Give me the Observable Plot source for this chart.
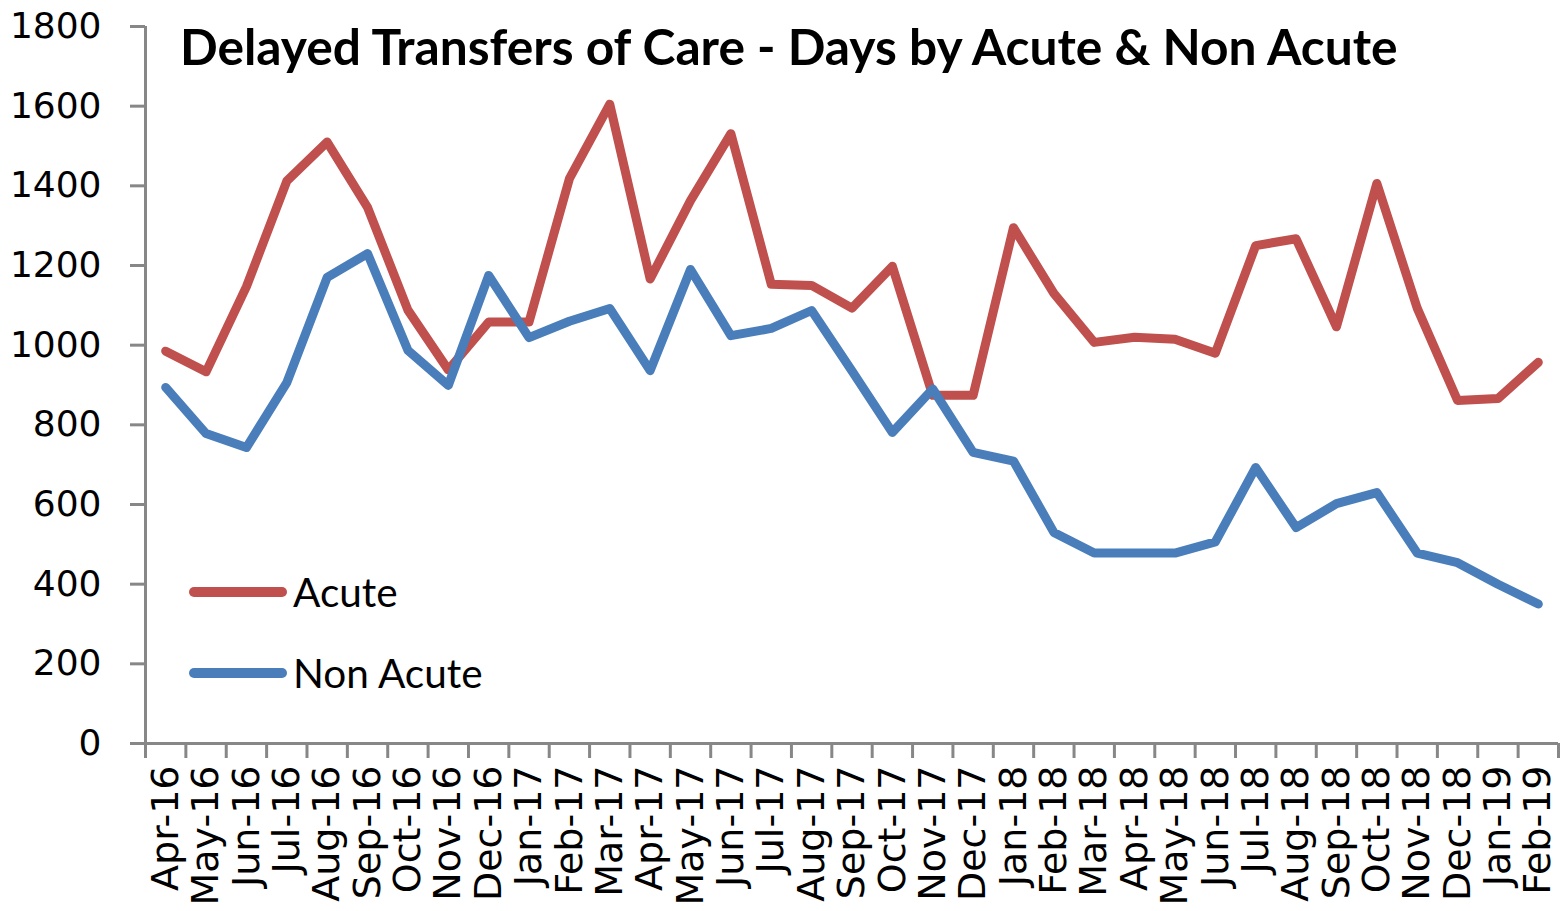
<!DOCTYPE html>
<html>
<head>
<meta charset="utf-8">
<script src="https://cdn.jsdelivr.net/npm/d3@7"></script>
<script src="https://cdn.jsdelivr.net/npm/@observablehq/plot@0.6"></script>
<style>
  html, body { margin: 0; padding: 0; background: #fff; }
  #wrap { position: relative; width: 1560px; height: 911px; overflow: hidden; }
  #title { position: absolute; left: 180px; top: 15px; font-family: Lato, "Open Sans", sans-serif; font-weight: bold; color: #000; white-space: nowrap; }
  .leg { position: absolute; left: 188px; font-family: Lato, "Open Sans", sans-serif; color: #000; white-space: nowrap; display: flex; align-items: center; }
  .leg svg { margin-right: 5px; }
</style>
</head>
<body>
<div id="wrap"></div>
<script>
const months = ["Apr-16","May-16","Jun-16","Jul-16","Aug-16","Sep-16","Oct-16","Nov-16","Dec-16","Jan-17","Feb-17","Mar-17","Apr-17","May-17","Jun-17","Jul-17","Aug-17","Sep-17","Oct-17","Nov-17","Dec-17","Jan-18","Feb-18","Mar-18","Apr-18","May-18","Jun-18","Jul-18","Aug-18","Sep-18","Oct-18","Nov-18","Dec-18","Jan-19","Feb-19"];
const acute = [985, 933, 1147, 1412, 1510, 1346, 1088, 938, 1058, 1058, 1418, 1605, 1166, 1363, 1531, 1153, 1150, 1093, 1198, 874, 874, 1295, 1130, 1007, 1020, 1015, 980, 1250, 1267, 1046, 1406, 1093, 861, 866, 957];
const nonAcute = [894, 778, 743, 906, 1170, 1230, 987, 899, 1175, 1019, 1060, 1092, 936, 1190, 1024, 1042, 1087, 935, 781, 890, 731, 709, 530, 478, 478, 478, 506, 693, 542, 602, 630, 478, 454, 400, 350];
const yTicks = [0, 200, 400, 600, 800, 1000, 1200, 1400, 1600, 1800];
const seriesNames = ["Acute", "Non Acute"];
const seriesColors = ["#C0504D", "#4A7EBB"];
const titleText = "Delayed Transfers of Care - Days by Acute & Non Acute";

const rows = [];
months.forEach((m, i) => {
  rows.push({i, month: m, series: seriesNames[0], value: acute[i]});
  rows.push({i, month: m, series: seriesNames[1], value: nonAcute[i]});
});
const idx = months.map((_, i) => i);
const bounds = d3.range(months.length + 1).map(i => i - 0.5);
const axisGray = "#878787";
const tickFont = "DejaVu Sans";

const chart = Plot.plot({
  width: 1560,
  height: 911,
  marginLeft: 145,
  marginRight: 2,
  marginTop: 26,
  marginBottom: 168,
  style: {background: "#fff", color: "#000", fontFamily: tickFont},
  x: {type: "linear", domain: [-0.5, months.length - 0.5]},
  y: {domain: [0, 1800]},
  color: {domain: seriesNames, range: seriesColors},
  marks: [
    Plot.ruleY([0], {stroke: axisGray, strokeWidth: 3}),
    Plot.ruleX([-0.5], {stroke: axisGray, strokeWidth: 3}),
    Plot.axisY({ticks: yTicks, tickSize: 15, tickPadding: 29, stroke: axisGray, strokeWidth: 3, fill: "#000", fontSize: 36, fontFamily: tickFont, label: null, tickFormat: d => String(d)}),
    Plot.axisX({ticks: bounds, tickSize: 15, stroke: axisGray, strokeWidth: 3, tickFormat: () => "", label: null}),
    Plot.axisX({ticks: idx, tickSize: 0, tickPadding: 22, tickRotate: -90, fill: "#000", fontSize: 38, fontFamily: tickFont, tickFormat: i => months[i], label: null}),
    Plot.line(rows, {x: "i", y: "value", z: "series", stroke: "series", strokeWidth: 9, strokeLinejoin: "round", strokeLinecap: "round"})
  ]
});
const wrap = document.getElementById("wrap");
wrap.appendChild(chart);

// Title overlay
const canvas = document.createElement("canvas");
const ctx = canvas.getContext("2d");
function fitSize(text, weight, family, targetWidth) {
  ctx.font = `${weight} 100px ${family}`;
  const w = ctx.measureText(text).width;
  return 100 * targetWidth / w;
}
const title = document.createElement("div");
title.id = "title";
title.textContent = titleText;
const tSize = fitSize(titleText, "bold", "Lato", 1225);
title.style.fontSize = tSize + "px";
title.style.lineHeight = "1";
title.style.top = (62 - tSize * 0.80) + "px";
wrap.appendChild(title);

// Legend overlay
const legY = [592, 673];
const lSize = fitSize("Non Acute", "normal", "Lato", 191);
seriesNames.forEach((name, k) => {
  const d = document.createElement("div");
  d.className = "leg";
  d.style.fontSize = lSize + "px";
  d.style.height = "60px";
  d.style.top = (legY[k] - 30) + "px";
  const sw = document.createElementNS("http://www.w3.org/2000/svg", "svg");
  sw.setAttribute("width", 100); sw.setAttribute("height", 20);
  const ln = document.createElementNS("http://www.w3.org/2000/svg", "line");
  ln.setAttribute("x1", 6); ln.setAttribute("x2", 94); ln.setAttribute("y1", 10); ln.setAttribute("y2", 10);
  ln.setAttribute("stroke", seriesColors[k]); ln.setAttribute("stroke-width", 10); ln.setAttribute("stroke-linecap", "round");
  sw.appendChild(ln);
  d.appendChild(sw);
  const t = document.createElement("span");
  t.textContent = name;
  t.style.position = "relative"; t.style.top = "-1px";
  d.appendChild(t);
  wrap.appendChild(d);
});
</script>
</body>
</html>
